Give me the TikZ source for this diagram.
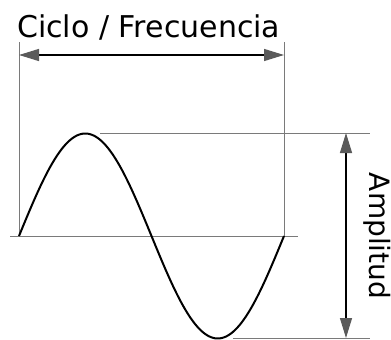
\documentclass[tikz,border=0pt]{standalone}
\usepackage{fontspec}
\setmainfont{DejaVu Sans}
\usetikzlibrary{arrows.meta}
\definecolor{guide}{HTML}{7A7A7A}
\definecolor{tipgray}{HTML}{5A5A5A}
\tikzset{
  guideline/.style={draw=guide, line width=0.9pt},
  wave/.style={draw=black, line width=2pt},
  dimarrow/.style={draw=black, line width=1.3pt,
    {Triangle[length=20pt,width=12pt,color=tipgray]}-{Triangle[length=20pt,width=12pt,color=tipgray]}},
  lbl/.style={inner sep=0pt, text=black}
}
\begin{document}
\begin{tikzpicture}[x=1pt,y=-1pt]
\useasboundingbox (0,0) rectangle (391,340);
% coordinates
\coordinate (L0) at (19,236);
\coordinate (Ltop) at (19,42);
\coordinate (R0) at (284,236);
\coordinate (Rtop) at (284,42);
\coordinate (baseA) at (10,236);
\coordinate (baseB) at (298,236);
\coordinate (peakA) at (100,133);
\coordinate (peakB) at (370,133);
\coordinate (trA) at (233,338);
\coordinate (trB) at (370,338);
\coordinate (cA) at (19,55);
\coordinate (cB) at (284,55);
\coordinate (aA) at (346,133);
\coordinate (aB) at (346,338);
% guide lines
\draw[guideline] (Ltop) -- (L0);
\draw[guideline] (Rtop) -- (R0);
\draw[guideline] (baseA) -- (baseB);
\draw[guideline] (peakA) -- (peakB);
\draw[guideline] (trA) -- (trB);
% wave
\draw[wave] plot[domain=0:360, samples=120, smooth] ({19+0.736111*\x}, {236-102.5*sin(\x)});
% arrows
\draw[dimarrow] (cA) -- (cB);
\draw[dimarrow] (aA) -- (aB);
% labels
\node[lbl, anchor=base west, font=\fontsize{30}{34}\selectfont] (cyc) at (17,37) {Ciclo / Frecuencia};
\node[lbl, rotate=-90, anchor=base, font=\fontsize{28}{32}\selectfont] (amp) at (369,236) {Amplitud};
\end{tikzpicture}
\end{document}
